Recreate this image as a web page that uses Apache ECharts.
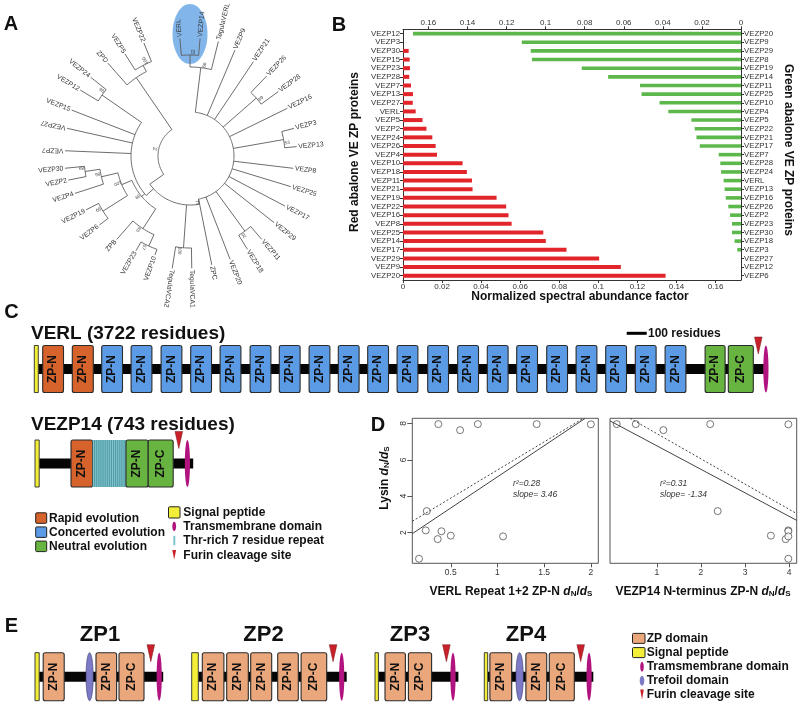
<!DOCTYPE html>
<html><head><meta charset="utf-8">
<script src="https://cdn.jsdelivr.net/npm/echarts@6/dist/echarts.min.js"></script>
<style>html,body{margin:0;padding:0;background:#fff}#c{width:800px;height:706px}</style>
</head><body><div id="c"></div>
<script>
const FONT = '"Liberation Sans", Arial, Helvetica, sans-serif';

// ================= Panel A : phylogeny =================
const leafNames  = ['VERL','VEZP14','TegulaVERL','VEZP9','VEZP21','VEZP26','VEZP28','VEZP16','VEZP3','VEZP13','VEZP8','VEZP25','VEZP17','VEZP29','VEZP11','VEZP18','VEZP20','ZPC','TegulaVCA1','TegulaVCA2','VEZP10','VEZP23','ZPB','VEZP6','VEZP19','VEZP4','VEZP2','VEZP30','VEZP7','VEZP27','VEZP15','VEZP12','VEZP24','ZPD','VEZP5','VEZP22'];
const leafAngles = [-4.9,4.9,13.9,23,33.9,43.8,53.9,63.9,75.1,85,96.8,106.9,117.8,128.4,139.3,148.4,158.8,168.7,179.1,189,199.5,209.7,221.3,232.7,242.6,252,258.8,264.4,272.4,282.7,291.2,301,308.4,318.5,327.5,337.8];
const leafDepths = [118,118,118,115,113.6,110.8,109.2,108.4,107.6,107.1,104,105.3,107.4,107.3,110,109.5,110.8,111,112.3,113.7,105,109,111,114,117,121,124,125.6,125,126,127,128,126.7,124,121,122];
const leafParents = ['c92','c92','c68','ringR','ringR','c89a','c89a','ringR','c53','c53','ringR','ringR','ringR','ringR','c92b','c92b','ringR','ringR','c100a','c100a','c57','c57','c88','c99','c99','c86','c89c','c89c','ringL','ringL','ringL','c96','c96','cZPD','c100c','c100c'];
const nodeNames   = ['root','ring','ringR','ringL','c92','c68','c89a','c53','c92b','c100a','c89b','c100b','c86','c89c','c99','c88','c57','c96','cZPD','c100c'];
const nodeParents = [null,'root','ring','ring','c68','ringR','ringR','ringR','ringR','ring','ringL','c89b','c100b','c86','c100b','c89b','c88','ringL','root','cZPD'];
const nodeDepths  = [32,49,44,59,101,89,88,95,93,92,63,74,91,106,103,86.5,99,107,95,102];
const nodeSupport = ['74','','71','','92','68','89','53','92','100','89','100','86','89','99','88','57','96','','100'];
const backboneStemAngles = {ring:235, ringR:169, ringL:228};
const upsideDownLabels = ['VEZP7','VEZP27'];

// ================= Panel B : NSAF bars =================
const redNames = ['VEZP12','VEZP3','VEZP30','VEZP15','VEZP23','VEZP28','VEZP7','VEZP13','VEZP27','VERL','VEZP5','VEZP2','VEZP24','VEZP26','VEZP4','VEZP10','VEZP18','VEZP11','VEZP21','VEZP19','VEZP22','VEZP16','VEZP8','VEZP25','VEZP14','VEZP17','VEZP29','VEZP9','VEZP20'];
const redValues = [0,0,0.0029,0.0034,0.0036,0.0032,0.0041,0.0051,0.005,0.0065,0.010,0.012,0.015,0.0167,0.0174,0.0305,0.0327,0.0353,0.0356,0.0479,0.0528,0.054,0.0556,0.0718,0.0731,0.0837,0.1004,0.1115,0.1344];
const greenNames = ['VEZP20','VEZP9','VEZP29','VEZP8','VEZP19','VEZP14','VEZP11','VEZP25','VEZP10','VEZP4','VEZP5','VEZP22','VEZP21','VEZP17','VEZP7','VEZP28','VEZP24','VERL','VEZP13','VEZP16','VEZP26','VEZP2','VEZP23','VEZP30','VEZP18','VEZP3','VEZP27','VEZP12','VEZP6'];
const greenValues = [0.1679,0.1122,0.1076,0.107,0.0815,0.068,0.0517,0.0509,0.0417,0.0372,0.0254,0.0237,0.0228,0.0211,0.0114,0.0106,0.0102,0.0089,0.0084,0.0078,0.0065,0.0056,0.0046,0.0046,0.0033,0.0019,0,0,0];
const nsafTicks = 0.02;
const nsafMax = 0.173;

// ================= Panel D : dN/dS scatter =================
const lysinDnDs   = [7.96,7.63,7.96,7.96,7.95,3.18,2.12,2.07,1.64,1.83,1.79,0.56];
const verlRepDnDs = [0.367,0.60,0.79,1.42,2.0,0.243,0.232,0.40,0.36,0.5,1.06,0.16];
const vezp14DnDs  = [0.093,1.15,0.524,2.21,3.98,2.38,3.98,3.98,3.92,3.585,3.98,3.98];
const verlFitSolid  = [[0.088,1.94],[1.94,8.28]];
const verlFitDashed = [[0.088,2.62],[1.92,8.28]];
const vezpFitSolid  = [[-0.06,8.14],[4.17,2.67]];
const vezpFitDashed = [[0.395,8.28],[4.17,3.04]];
const verlXTicks = [0.5,1,1.5,2];
const vezpXTicks = [1,2,3,4];
const lysinTicks = [2,4,6,8];

// ================= Panels C & E : domain architecture (residues) =================
const verlSignal = [0,20], verlChain = [20,3648], verlFurin = 3620, verlTM = 3658;
const verlDomains = [['rapid',42,146],['rapid',190,295],
 ['concerted',337,441],['concerted',484,588],['concerted',634,738],['concerted',782,886],['concerted',929,1033],
 ['concerted',1079,1183],['concerted',1225,1329],['concerted',1374,1478],['concerted',1520,1624],['concerted',1667,1771],
 ['concerted',1814,1918],['concerted',1967,2071],['concerted',2117,2221],['concerted',2265,2369],['concerted',2412,2516],
 ['concerted',2562,2666],['concerted',2709,2813],['concerted',2857,2961],['concerted',3005,3109],['concerted',3154,3258],
 ['neutral',3354,3454,'ZP-N'],['neutral',3470,3595,'ZP-C']];
const vezp14Signal = [0,21], vezp14Chain = [21,791], vezp14Furin = 719, vezp14TM = 762;
const vezp14Domains = [['rapid',180,288,'ZP-N'],['thr',288,455],['neutral',455,566,'ZP-N'],['neutral',566,691,'ZP-C']];
const zp1Signal=[0,21], zp1Chain=[21,641], zp1Furin=579, zp1TM=621;
const zp1Domains=[['zp',41,146,'ZP-N'],['trefoil',255,291],['zp',305,408,'ZP-N'],['zp',420,545,'ZP-C']];
const zp2Signal=[0,33], zp2Chain=[33,775], zp2Furin=707, zp2TM=750;
const zp2Domains=[['zp',53,161,'ZP-N'],['zp',175,283,'ZP-N'],['zp',295,400,'ZP-N'],['zp',430,533,'ZP-N'],['zp',547,675,'ZP-C']];
const zp3Signal=[0,17], zp3Chain=[17,417], zp3Furin=357, zp3TM=390;
const zp3Domains=[['zp',50,152,'ZP-N'],['zp',167,283,'ZP-C']];
const zp4Signal=[0,17], zp4Chain=[17,545], zp4Furin=482, zp4TM=524;
const zp4Domains=[['zp',28,137,'ZP-N'],['trefoil',158,195],['zp',208,312,'ZP-N'],['zp',325,450,'ZP-C']];
const scaleBarResidues = 100;

// ---------- styles / layout ----------
const COL = {rapid:'#d6622c', concerted:'#5b9be6', neutral:'#68b440', zp:'#eba77c', signal:'#f3ee38',
  tm:'#b2147f', furin:'#c8212a', trefoil:'#7c79c6', thr:'#4d9ba5', red:'#e1252a', green:'#5cb84b'};
const RES_PER_PX = 5;
const proteinRows = [
  {signal:verlSignal, chain:verlChain, furin:verlFurin, tm:verlTM, domains:verlDomains, xPx:34.3, y:369, h:23.5, scale:{xPx:626.7, dy:-35.7}},
  {signal:vezp14Signal, chain:vezp14Chain, furin:vezp14Furin, tm:vezp14TM, domains:vezp14Domains, xPx:35, y:463.5, h:23.5},
  {signal:zp1Signal, chain:zp1Chain, furin:zp1Furin, tm:zp1TM, domains:zp1Domains, xPx:35, y:676.7, h:24},
  {signal:zp2Signal, chain:zp2Chain, furin:zp2Furin, tm:zp2TM, domains:zp2Domains, xPx:191.7, y:676.7, h:24, sigW:true},
  {signal:zp3Signal, chain:zp3Chain, furin:zp3Furin, tm:zp3TM, domains:zp3Domains, xPx:375, y:676.7, h:24},
  {signal:zp4Signal, chain:zp4Chain, furin:zp4Furin, tm:zp4TM, domains:zp4Domains, xPx:484.3, y:676.7, h:24}
];

// ---------- build tree nodes ----------
const treeNodes = [];
const byName = {};
nodeNames.forEach((nm,i)=>{ const n={name:nm,parent:nodeParents[i],depth:nodeDepths[i],support:nodeSupport[i],leaf:false,children:[]}; treeNodes.push(n); byName[nm]=n; });
leafNames.forEach((nm,i)=>{ const n={name:nm,parent:leafParents[i],depth:leafDepths[i],angle:leafAngles[i],leaf:true,children:[]}; treeNodes.push(n); byName[nm]=n; });
treeNodes.forEach(n=>{ if(n.parent) byName[n.parent].children.push(n); });
function angleOf(n){
  if (n.angle !== undefined) return n.angle;
  const ca = n.children.map(angleOf);
  n.a0 = Math.min(...ca); n.a1 = Math.max(...ca);
  n.angle = backboneStemAngles[n.name] !== undefined ? backboneStemAngles[n.name] : (n.a0+n.a1)/2;
  if (n.parent) { n.a0 = Math.min(n.a0, n.angle); n.a1 = Math.max(n.a1, n.angle); }
  return n.angle;
}
angleOf(byName.root);
const treeData = treeNodes.map((n,i)=>[n.depth, ((n.angle%360)+360)%360, i]);

function treeItem(params, api){
  const n = treeNodes[api.value(2)];
  const els = [];
  const ls = {stroke:'#5c5c5c', lineWidth:0.9, fill:null};
  if (n.parent){
    const pd = byName[n.parent].depth;
    els.push({type:'polyline', shape:{points:[api.coord([pd,n.angle]), api.coord([n.depth,n.angle])]}, style:ls});
  }
  if (!n.leaf){
    const pts=[]; const steps=Math.max(2,Math.ceil((n.a1-n.a0)/1.5));
    for(let k=0;k<=steps;k++) pts.push(api.coord([n.depth, n.a0+(n.a1-n.a0)*k/steps]));
    els.push({type:'polyline', shape:{points:pts}, style:ls});
    if (n.support){
      const p = api.coord([n.depth+3.2, n.angle+2.2]);
      els.push({type:'text', x:p[0], y:p[1], rotation:(90-n.angle)*Math.PI/180,
        style:{text:n.support, fontSize:4.6, fill:'#444', align:'center', verticalAlign:'middle', fontFamily:FONT}});
    }
  } else {
    const flip = n.angle>195 && n.angle<355 && upsideDownLabels.indexOf(n.name)<0;
    const p = api.coord([n.depth+1.6, n.angle]);
    els.push({type:'text', x:p[0], y:p[1], rotation:((flip?270:90)-n.angle)*Math.PI/180,
      style:{text:n.name, fontSize:6.8, fill:'#333', align:flip?'right':'left', verticalAlign:'middle', fontFamily:FONT}});
  }
  return {type:'group', children:els};
}
function highlightItem(params, api){
  const a = byName.VERL, b = byName.VEZP14;
  const c = api.coord([(a.depth+b.depth)/2+4, (a.angle+b.angle)/2]);
  return {type:'ellipse', shape:{cx:c[0], cy:c[1], rx:17.5, ry:30}, style:{fill:'#74aee9', opacity:0.9}};
}

// ---------- domain drawing ----------
function domainItem(params, api){
  const row = proteinRows[api.value(2)];
  const x0 = api.value(0), yc = api.value(1);
  const X = r => api.coord([x0+r, yc])[0];
  const Y = api.coord([x0, yc])[1];
  const h = row.h;
  const els = [];
  const stroke = '#2b2b2b';
  // backbone
  els.push({type:'rect', shape:{x:X(row.chain[0]), y:Y-5, width:X(row.chain[1])-X(row.chain[0]), height:10}, style:{fill:'#050505'}});
  // signal peptide
  els.push({type:'rect', shape:{x:X(row.signal[0]), y:Y-h, width:X(row.signal[1])-X(row.signal[0]), height:2*h}, style:{fill:COL.signal, stroke:stroke, lineWidth:0.9}});
  row.domains.forEach(d=>{
    const [kind,s,e,lab] = d;
    const xs=X(s), xe=X(e);
    if (kind==='thr'){
      els.push({type:'rect', shape:{x:xs, y:Y-h, width:xe-xs, height:2*h}, style:{fill:COL.thr}});
      for(let xx=xs+1; xx<xe-0.5; xx+=2.1) els.push({type:'line', shape:{x1:xx,y1:Y-h,x2:xx,y2:Y+h}, style:{stroke:'#9fd9e0', lineWidth:0.7}});
    } else if (kind==='trefoil'){
      els.push({type:'ellipse', shape:{cx:(xs+xe)/2, cy:Y, rx:(xe-xs)/2, ry:h}, style:{fill:COL.trefoil, stroke:'#3a3a6a', lineWidth:0.6}});
    } else {
      els.push({type:'rect', shape:{x:xs, y:Y-h, width:xe-xs, height:2*h, r:2}, style:{fill:COL[kind], stroke:stroke, lineWidth:1.1}});
      els.push({type:'text', x:(xs+xe)/2, y:Y, rotation:Math.PI/2,
        style:{text:lab||'ZP-N', fontSize:12, fontWeight:'bold', fill:'#111', align:'center', verticalAlign:'middle', fontFamily:FONT}});
    }
  });
  // furin site
  const xf = X(row.furin);
  els.push({type:'polygon', shape:{points:[[xf-3.8,Y-32],[xf+3.8,Y-32],[xf,Y-15]]}, style:{fill:COL.furin, stroke:'#7a1218', lineWidth:0.5}});
  // transmembrane
  els.push({type:'ellipse', shape:{cx:X(row.tm), cy:Y, rx:2.6, ry:h}, style:{fill:COL.tm}});
  if (row.scale){
    const xs0 = X(row.scale.xPx*RES_PER_PX - x0), xs1 = X(row.scale.xPx*RES_PER_PX - x0 + scaleBarResidues);
    els.push({type:'line', shape:{x1:xs0, y1:Y+row.scale.dy, x2:xs1, y2:Y+row.scale.dy}, style:{stroke:'#000', lineWidth:3}});
  }
  return {type:'group', children:els};
}
const domainData = proteinRows.map((r,i)=>[r.xPx*RES_PER_PX, r.y, i]);

// ---------- graphic texts ----------
const G = [];
function txt(x,y,text,o){ G.push(Object.assign({type:'text', x:x, y:y, z:50, style:Object.assign({text:text, fontFamily:FONT, fill:'#111', align:'left', verticalAlign:'middle'}, o||{})})); }
function rot(x,y,text,r,o){ G.push({type:'text', x:x, y:y, rotation:r, z:50, style:Object.assign({text:text, fontFamily:FONT, fill:'#111', align:'center', verticalAlign:'middle'}, o||{})}); }
// panel letters
[['A',11,24],['B',339,25],['C',11.5,312],['D',378,425],['E',11.5,626]].forEach(l=>txt(l[1],l[2],l[0],{fontSize:20,fontWeight:'bold',align:'center'}));
// B axis titles
rot(355,152,'Red abalone VE ZP proteins',Math.PI/2,{fontSize:12,fontWeight:'bold'});
rot(788,150,'Green abalone VE ZP proteins',-Math.PI/2,{fontSize:12,fontWeight:'bold'});
txt(580,297,'Normalized spectral abundance factor',{fontSize:12,fontWeight:'bold',align:'center'});
// C titles
txt(31,334,'VERL (3722 residues)',{fontSize:19,fontWeight:'bold'});
txt(31,425,'VEZP14 (743 residues)',{fontSize:19,fontWeight:'bold'});
txt(648,333.3,'100 residues',{fontSize:12,fontWeight:'bold'});
// C legend
function sq(x,y,w,h,c){ G.push({type:'rect', z:50, shape:{x:x,y:y,width:w,height:h,r:1}, style:{fill:c, stroke:'#222', lineWidth:1}}); }
sq(35.7,512.8,11,10.5,COL.rapid); txt(49,518.3,'Rapid evolution',{fontSize:12,fontWeight:'bold'});
sq(35.7,526.9,11,10.5,COL.concerted); txt(49,532.4,'Concerted evolution',{fontSize:12,fontWeight:'bold'});
sq(35.7,541.1,11,10.5,COL.neutral); txt(49,546.7,'Neutral evolution',{fontSize:12,fontWeight:'bold'});
sq(168.5,506.8,11.5,11.2,COL.signal); txt(183.3,512.3,'Signal peptide',{fontSize:12,fontWeight:'bold'});
G.push({type:'ellipse', z:50, shape:{cx:174.2,cy:526.4,rx:1.9,ry:4.6}, style:{fill:COL.tm}});
txt(183.3,526.7,'Transmembrane domain',{fontSize:12,fontWeight:'bold'});
G.push({type:'rect', z:50, shape:{x:173.3,y:535.8,width:2,height:9.4}, style:{fill:'#7fc6cf'}});
txt(183.3,540.8,'Thr-rich 7 residue repeat',{fontSize:12,fontWeight:'bold'});
G.push({type:'polygon', z:50, shape:{points:[[172.3,550],[176.1,550],[174.2,559.5]]}, style:{fill:COL.furin}});
txt(183.3,555.3,'Furin cleavage site',{fontSize:12,fontWeight:'bold'});
// D titles and stats
const richD = {b:{fontSize:12,fontWeight:'bold',fontFamily:FONT,fill:'#111',verticalAlign:'bottom',lineHeight:14},
  i:{fontSize:12,fontWeight:'bold',fontStyle:'italic',fontFamily:FONT,fill:'#111',verticalAlign:'bottom',lineHeight:14},
  s:{fontSize:8,fontWeight:'bold',fontFamily:FONT,fill:'#111',verticalAlign:'bottom',lineHeight:4}};
G.push({type:'text', z:50, x:384, y:478, rotation:Math.PI/2, style:{text:'{b|Lysin }{i|d}{s|N}{b|/}{i|d}{s|S}', rich:richD, align:'center', verticalAlign:'middle'}});
G.push({type:'text', z:50, x:511, y:591, style:{text:'{b|VERL Repeat 1+2 ZP-N }{i|d}{s|N}{b|/}{i|d}{s|S}', rich:richD, align:'center', verticalAlign:'middle'}});
G.push({type:'text', z:50, x:703, y:591, style:{text:'{b|VEZP14 N-terminus ZP-N }{i|d}{s|N}{b|/}{i|d}{s|S}', rich:richD, align:'center', verticalAlign:'middle'}});
txt(513,483.5,'r\u00B2=0.28',{fontSize:8.5,fontStyle:'italic',fill:'#333'});
txt(513,495,'slope= 3.46',{fontSize:8.5,fontStyle:'italic',fill:'#333'});
txt(660,483.5,'r\u00B2=0.31',{fontSize:8.5,fontStyle:'italic',fill:'#333'});
txt(660,495,'slope= -1.34',{fontSize:8.5,fontStyle:'italic',fill:'#333'});
// E titles
[['ZP1',100],['ZP2',263.5],['ZP3',410],['ZP4',526]].forEach(t=>txt(t[1],635,t[0],{fontSize:22,fontWeight:'bold',align:'center'}));
// E legend
sq(632.5,633.4,12.5,10,COL.zp); txt(646.7,638.4,'ZP domain',{fontSize:12,fontWeight:'bold'});
sq(632.5,647.6,12.5,10,COL.signal); txt(646.7,652.4,'Signal peptide',{fontSize:12,fontWeight:'bold'});
G.push({type:'ellipse', z:50, shape:{cx:642,cy:666.7,rx:1.8,ry:5}, style:{fill:COL.tm}});
txt(646.7,666.8,'Tramsmembrane domain',{fontSize:12,fontWeight:'bold'});
G.push({type:'ellipse', z:50, shape:{cx:642,cy:680.8,rx:2.3,ry:5}, style:{fill:COL.trefoil}});
txt(646.7,680.8,'Trefoil domain',{fontSize:12,fontWeight:'bold'});
G.push({type:'polygon', z:50, shape:{points:[[640.2,689.5],[643.8,689.5],[642,699.5]]}, style:{fill:COL.furin}});
txt(646.7,695,'Furin cleavage site',{fontSize:12,fontWeight:'bold'});

// ---------- axes ----------
const axLine = {show:true, lineStyle:{color:'#333', width:1}};
const axTick = {show:true, length:3, lineStyle:{color:'#333'}};
const nsafLabel = {fontSize:8, color:'#333', margin:3, showMaxLabel:false, fontFamily:FONT};
const dLabel = {fontSize:8.5, color:'#333', fontFamily:FONT};

const option = {
  animation:false,
  backgroundColor:'#fff',
  textStyle:{fontFamily:FONT},
  polar:{center:[190,156], radius:130},
  angleAxis:{type:'value', min:0, max:360, startAngle:90, clockwise:true, show:false},
  radiusAxis:{type:'value', min:0, max:130, show:false},
  grid:[
    {left:403, top:29.3, width:338, height:250.7},
    {left:412.3, top:418.3, width:186, height:145, show:true, borderColor:'#555', borderWidth:1, backgroundColor:'transparent'},
    {left:610, top:418.3, width:186.7, height:145, show:true, borderColor:'#555', borderWidth:1, backgroundColor:'transparent'},
    {left:0, top:0, width:800, height:706}
  ],
  xAxis:[
    {gridIndex:0, type:'value', position:'bottom', min:0, max:nsafMax, interval:nsafTicks, axisLine:axLine, axisTick:axTick, axisLabel:nsafLabel, splitLine:{show:false}},
    {gridIndex:0, type:'value', position:'top', inverse:true, min:0, max:nsafMax, interval:nsafTicks, axisLine:axLine, axisTick:axTick, axisLabel:nsafLabel, splitLine:{show:false}},
    {gridIndex:1, type:'value', min:0.088, max:2.08, axisLine:{show:false}, axisTick:{show:true, length:4, lineStyle:{color:'#555'}, customValues:verlXTicks}, axisLabel:Object.assign({customValues:verlXTicks, margin:5}, dLabel), splitLine:{show:false}},
    {gridIndex:2, type:'value', min:-0.06, max:4.17, axisLine:{show:false}, axisTick:{show:true, length:4, lineStyle:{color:'#555'}, customValues:vezpXTicks}, axisLabel:Object.assign({customValues:vezpXTicks, margin:5}, dLabel), splitLine:{show:false}},
    {gridIndex:3, type:'value', min:0, max:800*RES_PER_PX, show:false}
  ],
  yAxis:[
    {gridIndex:0, type:'category', inverse:true, position:'left', data:redNames, axisLine:axLine, axisTick:Object.assign({alignWithLabel:true},axTick), axisLabel:{fontSize:7.8, color:'#333', margin:3, interval:0, fontFamily:FONT}},
    {gridIndex:0, type:'category', inverse:true, position:'right', data:greenNames, axisLine:axLine, axisTick:Object.assign({alignWithLabel:true},axTick), axisLabel:{fontSize:7.8, color:'#333', margin:3, interval:0, fontFamily:FONT}},
    {gridIndex:1, type:'value', min:0.31, max:8.28, axisLine:{show:false}, axisTick:{show:true, length:5, lineStyle:{color:'#555'}, customValues:lysinTicks}, axisLabel:Object.assign({customValues:lysinTicks, rotate:90, margin:4}, dLabel), splitLine:{show:false}},
    {gridIndex:2, type:'value', min:0.31, max:8.28, axisLine:{show:false}, axisTick:{show:false}, axisLabel:{show:false}, splitLine:{show:false}},
    {gridIndex:3, type:'value', min:0, max:706, inverse:true, show:false}
  ],
  series:[
    {type:'custom', coordinateSystem:'polar', z:1, data:[[0,0]], renderItem:highlightItem, silent:true},
    {type:'custom', coordinateSystem:'polar', z:2, data:treeData, encode:{radius:0, angle:1}, renderItem:treeItem, silent:true},
    {type:'bar', xAxisIndex:0, yAxisIndex:0, data:redValues, barWidth:4, itemStyle:{color:COL.red}},
    {type:'bar', xAxisIndex:1, yAxisIndex:1, data:greenValues, barWidth:3.6, itemStyle:{color:COL.green}},
    {type:'line', xAxisIndex:2, yAxisIndex:2, data:verlFitSolid, symbol:'none', lineStyle:{color:'#444', width:1}},
    {type:'line', xAxisIndex:2, yAxisIndex:2, data:verlFitDashed, symbol:'none', lineStyle:{color:'#444', width:1, type:[2,2]}},
    {type:'scatter', xAxisIndex:2, yAxisIndex:2, data:verlRepDnDs.map((x,i)=>[x,lysinDnDs[i]]), symbol:'circle', symbolSize:7, itemStyle:{color:'#fff', borderColor:'#555', borderWidth:1}},
    {type:'line', xAxisIndex:3, yAxisIndex:3, data:vezpFitSolid, symbol:'none', lineStyle:{color:'#444', width:1}},
    {type:'line', xAxisIndex:3, yAxisIndex:3, data:vezpFitDashed, symbol:'none', lineStyle:{color:'#444', width:1, type:[2,2]}},
    {type:'scatter', xAxisIndex:3, yAxisIndex:3, data:vezp14DnDs.map((x,i)=>[x,lysinDnDs[i]]), symbol:'circle', symbolSize:7, itemStyle:{color:'#fff', borderColor:'#555', borderWidth:1}},
    {type:'custom', xAxisIndex:4, yAxisIndex:4, data:domainData, renderItem:domainItem, silent:true}
  ],
  graphic:{elements:G}
};
const chart = echarts.init(document.getElementById('c'), null, {renderer:'canvas'});
chart.setOption(option);
</script>
</body></html>
